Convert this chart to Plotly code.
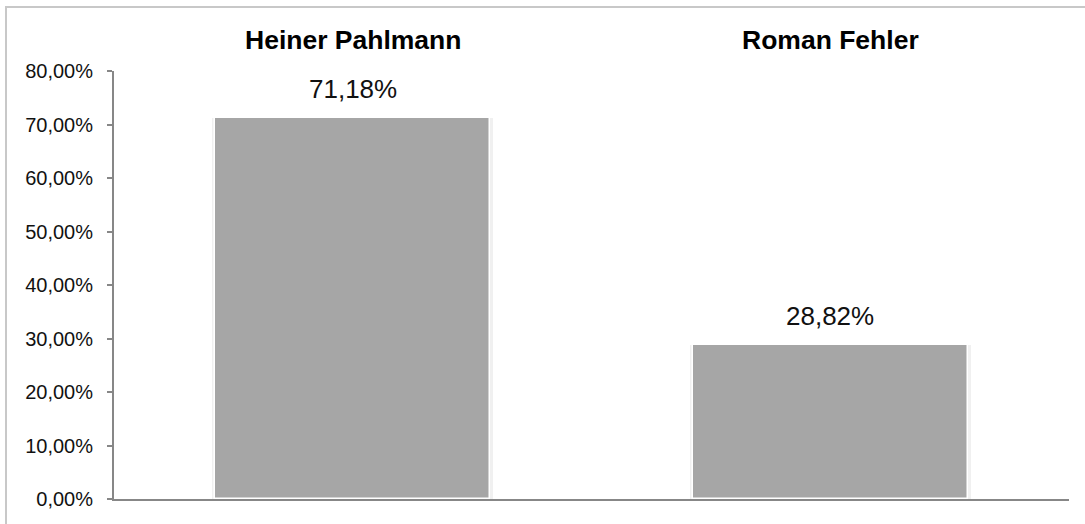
import plotly.graph_objects as go

candidates = ["Heiner Pahlmann", "Roman Fehler"]
shares = [71.18, 28.82]
y_ticks = [0, 10, 20, 30, 40, 50, 60, 70, 80]
y_tick_labels = ["0,00%", "10,00%", "20,00%", "30,00%", "40,00%",
                 "50,00%", "60,00%", "70,00%", "80,00%"]


def de_percent(v):
    return f"{v:.2f}".replace(".", ",") + "%"


FONT = "Liberation Sans, Arial, sans-serif"
BAR_W = 0.576

fig = go.Figure()

# soft halo behind each bar
fig.add_trace(go.Bar(
    x=candidates, y=shares, width=BAR_W + 0.012,
    marker=dict(color="rgba(0,0,0,0.06)", line=dict(width=0)),
    hoverinfo="skip", showlegend=False,
))
# main bars
fig.add_trace(go.Bar(
    x=candidates, y=shares, width=BAR_W,
    marker=dict(color="#a6a6a6", line=dict(color="#ffffff", width=1.5)),
    showlegend=False,
))

# value labels above the bars
for name, v in zip(candidates, shares):
    fig.add_annotation(
        x=name, y=v, xref="x", yref="y", text=de_percent(v),
        showarrow=False, yanchor="bottom", yshift=12,
        font=dict(family=FONT, size=26, color="#111111"),
    )
    # candidate names along the top
    fig.add_annotation(
        x=name, y=1, xref="x", yref="paper", text=f"<b>{name}</b>",
        showarrow=False, yanchor="middle", yshift=31,
        font=dict(family=FONT, size=26.5, color="#000000"),
    )

# outer chart frame (left and top edges visible)
fig.add_shape(
    type="rect", xref="paper", yref="paper",
    x0=(6 - 114) / 955, x1=1.2, y0=-0.3, y1=1 + (71 - 7) / 428,
    line=dict(color="#c8c8c8", width=2), fillcolor="rgba(0,0,0,0)",
    layer="below",
)

fig.update_layout(
    width=1085, height=524,
    margin=dict(l=114, r=16, t=71, b=25),
    paper_bgcolor="white", plot_bgcolor="white",
    barmode="overlay", bargap=0,
    font=dict(family=FONT, color="#111111"),
    xaxis=dict(
        showticklabels=False, ticks="", showgrid=False, zeroline=False,
        showline=True, linecolor="#878787", linewidth=2,
        range=[-0.5, 1.5],
    ),
    yaxis=dict(
        range=[0, 80], tickvals=y_ticks, ticktext=y_tick_labels,
        ticks="outside", ticklen=5, tickcolor="#878787", tickwidth=1.5,
        showline=True, linecolor="#878787", linewidth=2,
        showgrid=False, zeroline=False,
        tickfont=dict(family=FONT, size=20, color="#111111"),
        ticklabelstandoff=10,
    ),
)

fig.write_html("out.html")
